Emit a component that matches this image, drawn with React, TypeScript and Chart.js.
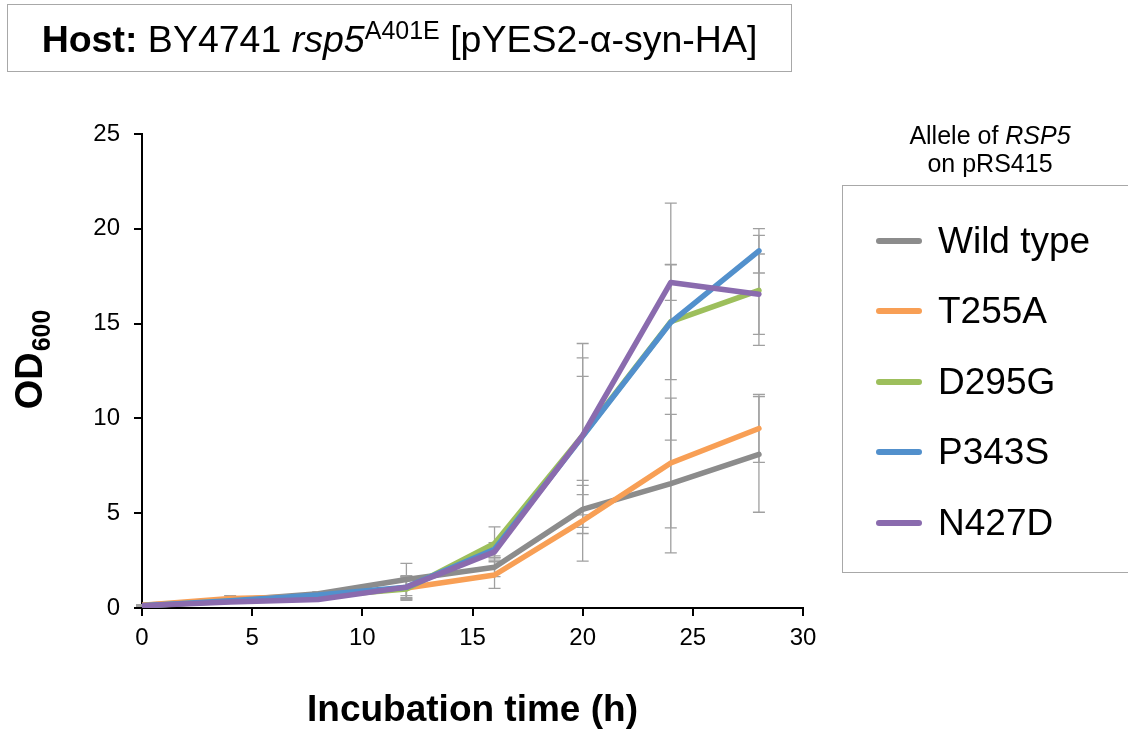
import React, { useEffect, useRef } from "react";
import { Chart, registerables } from "chart.js";

Chart.register(...registerables);

const FONT = '"Liberation Sans", Arial, Helvetica, sans-serif';

// Incubation time (h)
const timePoints = [0, 4, 8, 12, 16, 20, 24, 28];

// OD600 means
const wildType = [0.15, 0.4, 0.75, 1.5, 2.15, 5.2, 6.56, 8.1];
const t255a = [0.15, 0.5, 0.6, 1.05, 1.74, 4.6, 7.65, 9.47];
const d295g = [0.12, 0.35, 0.6, 1.0, 3.4, 9.1, 15.1, 16.75];
const p343s = [0.12, 0.38, 0.68, 1.1, 3.1, 9.05, 15.07, 18.84];
const n427d = [0.12, 0.32, 0.45, 1.1, 2.96, 9.1, 17.17, 16.55];

// error bar half-widths (SD)
const wildTypeErr = [0.03, 0.1, 0.1, 0.85, 0.5, 1.27, 3.65, 3.05];
const t255aErr = [0.03, 0.15, 0.1, 0.6, 0.7, 2.13, 3.42, 1.79];
const d295gErr = [0.03, 0.05, 0.05, 0.6, 0.88, 4.85, 6.25, 2.9];
const p343sErr = [0.03, 0.05, 0.1, 0.6, 0.35, 4.14, 3.03, 1.17];
const n427dErr = [0.03, 0.05, 0.05, 0.55, 0.3, 3.12, 0.95, 2.12];

const seriesNames = ["Wild type", "T255A", "D295G", "P343S", "N427D"];
const seriesColors = ["#8c8c8c", "#f89f55", "#9dbf5c", "#5290cc", "#8a6bae"];
const seriesValues = [wildType, t255a, d295g, p343s, n427d];
const seriesErrors = [wildTypeErr, t255aErr, d295gErr, p343sErr, n427dErr];
const drawOrder = [4, 3, 2, 1, 0];

const xTicks = [0, 5, 10, 15, 20, 25, 30];
const yTicks = [0, 5, 10, 15, 20, 25];

const errorBarPlugin = {
  id: "errorBars",
  beforeDatasetsDraw(chart: any) {
    const { ctx, scales } = chart;
    const xs = scales.x;
    const ys = scales.y;
    ctx.save();
    ctx.strokeStyle = "#a0a0a0";
    ctx.lineWidth = 1.3;
    chart.data.datasets.forEach((ds: any, i: number) => {
      const errs = seriesErrors[i];
      ds.data.forEach((pt: any, j: number) => {
        const e = errs[j];
        const px = xs.getPixelForValue(pt.x);
        const top = ys.getPixelForValue(pt.y + e);
        const bot = ys.getPixelForValue(Math.max(0, pt.y - e));
        ctx.beginPath();
        ctx.moveTo(px, top);
        ctx.lineTo(px, bot);
        ctx.moveTo(px - 6, top);
        ctx.lineTo(px + 6, top);
        ctx.moveTo(px - 6, bot);
        ctx.lineTo(px + 6, bot);
        ctx.stroke();
      });
    });
    ctx.restore();
  },
};

const axisTitlePlugin = {
  id: "axisTitles",
  afterDraw(chart: any) {
    const { ctx, chartArea } = chart;
    ctx.save();
    ctx.fillStyle = "#000";
    // x title
    ctx.font = `bold 37px ${FONT}`;
    ctx.textAlign = "center";
    ctx.textBaseline = "alphabetic";
    ctx.fillText("Incubation time (h)", (chartArea.left + chartArea.right) / 2, 721);
    // y title rotated: OD + subscript 600
    ctx.translate(42, 360);
    ctx.rotate(-Math.PI / 2);
    ctx.textAlign = "left";
    const mainFont = `bold 38px ${FONT}`;
    const subFont = `bold 25px ${FONT}`;
    ctx.font = mainFont;
    const w1 = ctx.measureText("OD").width;
    ctx.font = subFont;
    const w2 = ctx.measureText("600").width;
    const start = -(w1 + w2) / 2;
    ctx.font = mainFont;
    ctx.fillText("OD", start, 0);
    ctx.font = subFont;
    ctx.fillText("600", start + w1 + 1, 8);
    ctx.restore();
  },
};

export default function App() {
  const ref = useRef<HTMLCanvasElement>(null);

  useEffect(() => {
    const datasets = seriesNames.map((name, i) => ({
      label: name,
      data: timePoints.map((t, j) => ({ x: t, y: seriesValues[i][j] })),
      borderColor: seriesColors[i],
      backgroundColor: seriesColors[i],
      borderWidth: 5.5,
      pointRadius: 0,
      pointHoverRadius: 0,
      tension: 0,
      borderCapStyle: "round" as const,
      borderJoinStyle: "round" as const,
      order: drawOrder[i],
      fill: false,
    }));

    const chart = new Chart(ref.current as HTMLCanvasElement, {
      type: "line",
      data: { datasets },
      options: {
        animation: false,
        responsive: false,
        maintainAspectRatio: false,
        events: [],
        layout: { padding: { left: 0, right: 325, top: 134, bottom: 0 } },
        plugins: {
          legend: { display: false },
          tooltip: { enabled: false },
          title: { display: false },
        },
        scales: {
          x: {
            type: "linear",
            min: 0,
            max: 30,
            afterFit: (s: any) => {
              s.height = 123;
            },
            afterBuildTicks: (s: any) => {
              s.ticks = xTicks.map((v) => ({ value: v }));
            },
            ticks: {
              font: { family: FONT, size: 24 },
              color: "#000",
              padding: 8,
              maxRotation: 0,
              autoSkip: false,
            },
            grid: {
              drawOnChartArea: false,
              drawTicks: true,
              tickLength: 8,
              color: "#000",
              lineWidth: 2,
            },
            border: { display: true, color: "#000", width: 2 },
          },
          y: {
            type: "linear",
            min: 0,
            max: 25,
            afterFit: (s: any) => {
              s.width = 142;
            },
            afterBuildTicks: (s: any) => {
              s.ticks = yTicks.map((v) => ({ value: v }));
            },
            ticks: {
              font: { family: FONT, size: 24 },
              color: "#000",
              padding: 14,
              autoSkip: false,
            },
            grid: {
              drawOnChartArea: false,
              drawTicks: true,
              tickLength: 8,
              color: "#000",
              lineWidth: 2,
            },
            border: { display: true, color: "#000", width: 2 },
          },
        },
      },
      plugins: [errorBarPlugin, axisTitlePlugin],
    } as any);
    return () => chart.destroy();
  }, []);

  return (
    <div
      style={{
        position: "fixed",
        left: 0,
        top: 0,
        width: 1128,
        height: 731,
        overflow: "hidden",
        background: "#fff",
        fontFamily: FONT,
        color: "#000",
      }}
    >
      <canvas
        ref={ref}
        width={1128}
        height={731}
        style={{ position: "absolute", left: 0, top: 0, width: 1128, height: 731 }}
      />
      <div
        style={{
          position: "absolute",
          left: 7,
          top: 4,
          width: 783,
          height: 66,
          border: "1px solid #a8a8a8",
          display: "flex",
          alignItems: "center",
          justifyContent: "center",
          fontSize: 37.5,
          whiteSpace: "nowrap",
          lineHeight: 1,
        }}
      >
        <span>
          <b>Host:</b> BY4741 <i>rsp5</i>
          <span style={{ fontSize: 25, verticalAlign: 13 }}>A401E</span> [pYES2-α-syn-HA]
        </span>
      </div>
      <div
        style={{
          position: "absolute",
          left: 890,
          top: 121,
          width: 200,
          textAlign: "center",
          fontSize: 25,
          lineHeight: "28px",
          whiteSpace: "nowrap",
        }}
      >
        Allele of <i>RSP5</i>
        <br />
        on pRS415
      </div>
      <div
        style={{
          position: "absolute",
          left: 842,
          top: 185,
          width: 330,
          height: 386,
          border: "1px solid #a8a8a8",
        }}
      >
        {seriesNames.map((name, i) => {
          const cy = 241 - 186 + i * 70.4;
          return (
            <React.Fragment key={name}>
              <div
                style={{
                  position: "absolute",
                  left: 33,
                  top: cy - 3,
                  width: 46,
                  height: 6,
                  borderRadius: 3,
                  background: seriesColors[i],
                }}
              />
              <div
                style={{
                  position: "absolute",
                  left: 95,
                  top: cy - 19,
                  fontSize: 37,
                  lineHeight: "38px",
                  whiteSpace: "nowrap",
                }}
              >
                {name}
              </div>
            </React.Fragment>
          );
        })}
      </div>
    </div>
  );
}
